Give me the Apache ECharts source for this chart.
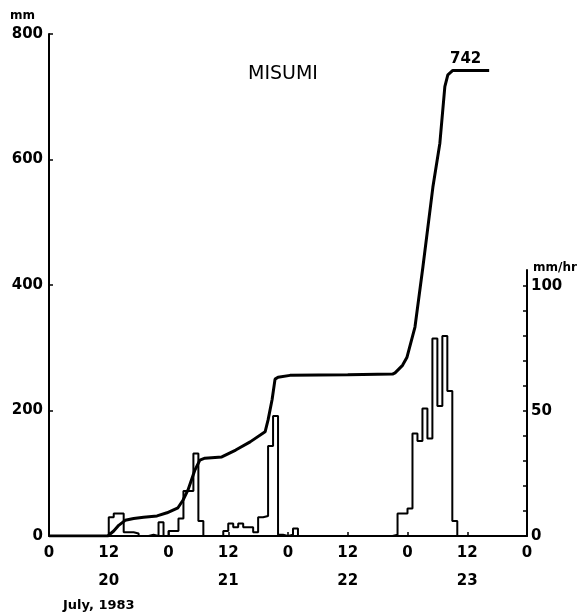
<!DOCTYPE html>
<html>
<head>
<meta charset="utf-8">
<script src="https://cdn.jsdelivr.net/npm/echarts@6/dist/echarts.min.js"></script>
<style>html,body{margin:0;padding:0;background:#fff;}#chart{width:585px;height:614px;}</style>
</head>
<body>
<div id="chart"></div>
<script>
// ---- data ----
// x: hours since 0h on July 20, 1983
const hourTickValues = [0, 12, 24, 36, 48, 60, 72, 84, 96];
const hourTickLabels = ['0', '12', '0', '12', '0', '12', '0', '12', '0'];
const dayLabels = ['', '20', '', '21', '', '22', '', '23', ''];

// cumulative rainfall (mm)
const cumHours = [0, 11.8, 13, 14, 15.3, 17, 19, 21.7, 23.7, 25.9, 26.9, 27.9, 29.3, 30.3, 31.3, 34.7, 37.5, 40.4, 43.4, 44, 44.8, 45.4, 46, 48.4, 60, 69, 69.5, 71, 71.9, 73.5, 75.1, 77.1, 78.5, 79.5, 80.1, 81.1, 88.4];
const cumMm    = [0, 0,    8,  17, 25,   28, 30, 32,   37,   45,   57,   73,   105,  121,  124,  126,  137,  150,  166,  185, 217,  250,  253, 256,  257, 258, 260,  272, 285,  333,  429,  556,  626,  716,  735,  742,  742];

// hourly rainfall (mm/hr), index = hour (0..95)
const hourlyRain = [
  0, 0, 0, 0, 0, 0, 0, 0, 0, 0, 0, 0,
  7.5, 9, 9, 1.5, 1.5, 1, 0, 0, 0.5, 0, 5.5, 0,
  2, 2, 7, 18, 18, 33, 6, 0, 0, 0, 0, 2,
  5, 3.5, 5, 3.5, 3.5, 1.5, 7.5, 8, 36, 48, 0.5, 0,
  0.5, 3, 0, 0, 0, 0, 0, 0, 0, 0, 0, 0,
  0, 0, 0, 0, 0, 0, 0, 0, 0, 0.5, 9, 9,
  11, 41, 38, 51, 39, 79, 52, 80, 58, 6, 0, 0,
  0, 0, 0, 0, 0, 0, 0, 0, 0, 0, 0, 0
];

const leftTicks = [0, 200, 400, 600, 800];
const rightTickValues = [0, 10, 20, 30, 40, 50, 60, 70, 80, 90, 100];
const rightLabelValues = [0, 50, 100];

// ---- build ----
const cumData = cumHours.map((h, i) => [h, cumMm[i]]);
const rainData = hourlyRain.map((v, i) => [i, v]);
rainData.push([96, 0]);

const FONT = 'DejaVu Sans';
const labelStyle = { fontFamily: FONT, fontWeight: 'bold', fontSize: 15, color: '#000' };

const chart = echarts.init(document.getElementById('chart'), null, { renderer: 'canvas' });
chart.setOption({
  backgroundColor: '#fff',
  animation: false,
  grid: [
    { left: 49, right: 58, top: 34, bottom: 78 },
    { left: 49, right: 58, top: 270, bottom: 78 }
  ],
  xAxis: [
    {
      type: 'value', gridIndex: 0, min: 0, max: 96, interval: 12,
      axisLine: { onZero: false, lineStyle: { color: '#000', width: 2 } },
      axisTick: { inside: true, length: 4, lineStyle: { color: '#000', width: 1.5 } },
      splitLine: { show: false },
      axisLabel: Object.assign({}, labelStyle, {
        margin: 3, lineHeight: 28,
        formatter: function (v) {
          const i = hourTickValues.indexOf(v);
          if (i < 0) return '';
          return dayLabels[i] ? hourTickLabels[i] + '\n' + dayLabels[i] : hourTickLabels[i];
        }
      })
    },
    {
      type: 'value', gridIndex: 1, min: 0, max: 96, show: false
    }
  ],
  yAxis: [
    {
      type: 'value', gridIndex: 0, min: 0, max: 800, interval: 200,
      axisLine: { show: true, onZero: false, lineStyle: { color: '#000', width: 2 } },
      axisTick: { show: true, inside: true, length: 4, lineStyle: { color: '#000', width: 1.5 } },
      splitLine: { show: false },
      axisLabel: Object.assign({}, labelStyle, { margin: 6, customValues: leftTicks })
    },
    {
      type: 'value', gridIndex: 1, position: 'right', min: 0, max: 106.4,
      axisLine: { show: true, onZero: false, lineStyle: { color: '#000', width: 2 } },
      axisTick: { show: true, inside: true, length: 4, customValues: rightTickValues, lineStyle: { color: '#000', width: 1.5 } },
      splitLine: { show: false },
      axisLabel: Object.assign({}, labelStyle, { margin: 4, customValues: rightLabelValues })
    }
  ],
  series: [
    {
      type: 'line', name: 'hourly', xAxisIndex: 1, yAxisIndex: 1,
      step: 'end', data: rainData, showSymbol: false, symbol: 'none',
      lineStyle: { color: '#000', width: 2 }, z: 2
    },
    {
      type: 'line', name: 'cumulative', xAxisIndex: 0, yAxisIndex: 0,
      data: cumData, showSymbol: false, symbol: 'none', smooth: false,
      lineStyle: { color: '#000', width: 3 }, z: 3
    }
  ],
  graphic: [
    { type: 'text', left: 10, top: 10, style: { text: 'mm', font: 'bold 12px "DejaVu Sans"', fill: '#000' } },
    { type: 'text', left: 533, top: 262, style: { text: 'mm/hr', font: 'bold 12px "DejaVu Sans"', fill: '#000' } },
    { type: 'text', left: 248, top: 65, style: { text: 'MISUMI', font: '19px "DejaVu Sans"', fill: '#000' } },
    { type: 'text', left: 450, top: 52, style: { text: '742', font: 'bold 15px "DejaVu Sans"', fill: '#000' } },
    { type: 'text', left: 63, top: 599, style: { text: 'July, 1983', font: 'bold 13px "DejaVu Sans"', fill: '#000' } }
  ]
});
</script>
</body>
</html>
